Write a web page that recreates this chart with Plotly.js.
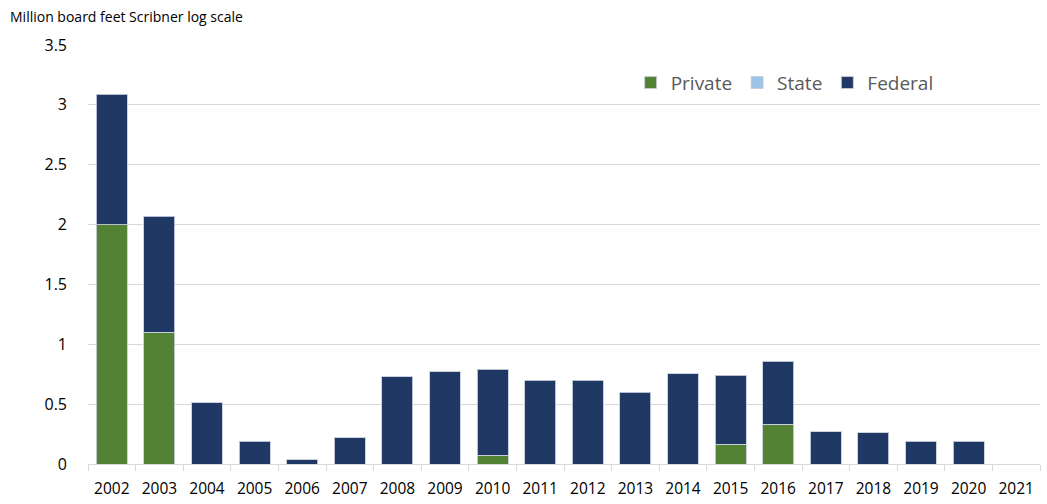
<!DOCTYPE html>
<html>
<head>
<meta charset="utf-8">
<script src="https://cdn.plot.ly/plotly-3.0.1.min.js"></script>
<style>html,body{margin:0;padding:0;background:#fff;}#chart{width:1047px;height:504px;}</style>
</head>
<body>
<div id="chart"></div>
<script>
const years = ["2002","2003","2004","2005","2006","2007","2008","2009","2010","2011","2012","2013","2014","2015","2016","2017","2018","2019","2020","2021"];
const privateVals = [2.0, 1.10, 0, 0, 0, 0, 0, 0, 0.075, 0, 0, 0, 0, 0.165, 0.33, 0, 0, 0, 0, 0];
const stateVals = [0, 0, 0, 0, 0, 0, 0, 0, 0, 0, 0, 0, 0, 0, 0, 0, 0, 0, 0, 0];
const federalVals = [1.09, 0.97, 0.51, 0.19, 0.035, 0.22, 0.73, 0.77, 0.715, 0.70, 0.70, 0.60, 0.755, 0.575, 0.527, 0.27, 0.26, 0.19, 0.19, 0];
const yTicks = [0, 0.5, 1, 1.5, 2, 2.5, 3, 3.5];
const yTickText = ["0", "0.5", "1", "1.5", "2", "2.5", "3", "3.5"];

const edge = {color: "rgba(200,205,220,0.9)", width: 1};
const traces = [
  {type: "bar", name: "Private", x: years, y: privateVals, marker: {color: "#548235", line: edge}},
  {type: "bar", name: "State", x: years, y: stateVals, marker: {color: "#9DC3E6", line: edge}},
  {type: "bar", name: "Federal", x: years, y: federalVals, marker: {color: "#203864", line: edge}}
];

const layout = {
  width: 1047, height: 504,
  margin: {l: 88, r: 7, t: 45, b: 40, autoexpand: false},
  barmode: "stack",
  bargap: 0.35,
  paper_bgcolor: "#fff", plot_bgcolor: "#fff",
  font: {family: "Open Sans, sans-serif", color: "#000"},
  showlegend: true,
  legend: {orientation: "h", x: 0.57, y: 0.91, xanchor: "left", yanchor: "middle",
           font: {size: 19, color: "#595959"}, bgcolor: "rgba(0,0,0,0)", traceorder: "normal",
           itemwidth: 30},
  xaxis: {type: "category", showgrid: false, zeroline: false, showline: true, linecolor: "#d9d9d9", linewidth: 1,
          ticks: "outside", tickson: "boundaries", ticklen: 6, tickcolor: "#d9d9d9",
          ticklabelstandoff: 10, tickangle: 0, automargin: false,
          tickfont: {size: 15.5, color: "#000"}, fixedrange: true},
  yaxis: {range: [0, 3.5], tickvals: yTicks, ticktext: yTickText, showgrid: true, gridcolor: "#d9d9d9",
          zeroline: false, showline: false, ticks: "", ticklabelstandoff: 20,
          tickfont: {size: 16, color: "#000"}, fixedrange: true},
  annotations: [{text: "Million board feet Scribner log scale", xref: "paper", yref: "paper",
                 x: -80/952, y: 1.067, xanchor: "left", yanchor: "middle", showarrow: false,
                 font: {size: 14, color: "#000"}}]
};
Plotly.newPlot("chart", traces, layout, {displayModeBar: false, staticPlot: true});
</script>
</body>
</html>
